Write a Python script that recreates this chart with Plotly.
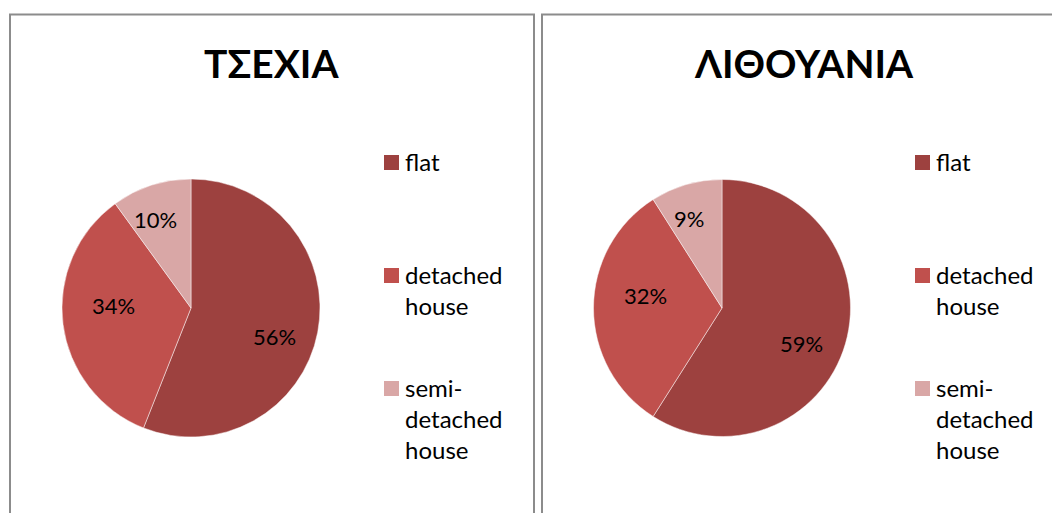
import math
import plotly.graph_objects as go

W, H = 1052, 513

# Dwelling types and shares (%) per country
categories = ["flat", "detached house", "semi-detached house"]
legend_text = ["flat", "detached<br>house", "semi-<br>detached<br>house"]
czech_values = [56, 34, 10]
lithuania_values = [59, 32, 9]
titles = ["ΤΣΕΧΙΑ", "ΛΙΘΟΥΑΝΙΑ"]

colors = ["#9D413F", "#C0504D", "#D9A7A6"]
FONT = "Lato, 'Open Sans', sans-serif"

# label placement inside each slice: fraction of radius and turn from the slice bisector (deg)
label_radius = [0.68, 0.60, 0.74]
label_turn = [8, 9, -4]


def px(x):
    return x / W


def py(y):
    return 1 - y / H


fig = go.Figure()

panels = [
    dict(values=czech_values, cx=191, cy=308, r=129, box=(10, 534), title_x=271, legend_x=384),
    dict(values=lithuania_values, cx=722, cy=308, r=128.5, box=(542, 1066), title_x=804, legend_x=915),
]

for title, p in zip(titles, panels):
    vals = p["values"]
    fig.add_trace(go.Pie(
        labels=categories,
        values=vals,
        sort=False,
        direction="clockwise",
        rotation=0,
        marker=dict(colors=colors, line=dict(color="rgba(255,255,255,0.6)", width=0.8)),
        textinfo="none",
        hoverinfo="label+percent",
        showlegend=False,
        domain=dict(
            x=[px(p["cx"] - p["r"]), px(p["cx"] + p["r"])],
            y=[py(p["cy"] + p["r"]), py(p["cy"] - p["r"])],
        ),
    ))

    # percentage labels, placed from the slice angles
    total = sum(vals)
    start = 0.0
    for k, v in enumerate(vals):
        share = v / total
        mid = (start + share / 2) * 360 + label_turn[k]
        start += share
        d = label_radius[k] * p["r"]
        lx = p["cx"] + d * math.sin(math.radians(mid))
        ly = p["cy"] - d * math.cos(math.radians(mid))
        fig.add_annotation(xref="paper", yref="paper", x=px(lx), y=py(ly),
                           text="%d%%" % round(share * 100), showarrow=False,
                           xanchor="center", yanchor="middle",
                           font=dict(family=FONT, size=22, color="#000000"))

    # chart frame
    x0, x1 = p["box"]
    fig.add_shape(type="rect", xref="paper", yref="paper",
                  x0=px(x0), x1=px(x1), y0=py(600), y1=py(14.5),
                  line=dict(color="#8C8C8C", width=2), fillcolor="rgba(0,0,0,0)")

    # title
    fig.add_annotation(xref="paper", yref="paper", x=px(p["title_x"]), y=py(63),
                       text="<b>%s</b>" % title, showarrow=False,
                       xanchor="center", yanchor="middle",
                       font=dict(family=FONT, size=39, color="#000000"))

    # legend
    square_tops = [155, 268, 381]
    for k, (txt, col) in enumerate(zip(legend_text, colors)):
        lx = p["legend_x"]
        top = square_tops[k]
        fig.add_shape(type="rect", xref="paper", yref="paper",
                      x0=px(lx), x1=px(lx + 15), y0=py(top + 15), y1=py(top),
                      line=dict(width=0), fillcolor=col)
        fig.add_annotation(xref="paper", yref="paper", x=px(lx + 19), y=py(top + 7.5 - 18),
                           text=txt, showarrow=False, align="left",
                           xanchor="left", yanchor="top",
                           font=dict(family=FONT, size=24, color="#000000"))

fig.update_layout(
    width=W, height=H,
    margin=dict(l=0, r=0, t=0, b=0),
    paper_bgcolor="#FFFFFF",
    plot_bgcolor="#FFFFFF",
)

fig.write_html("out.html")
